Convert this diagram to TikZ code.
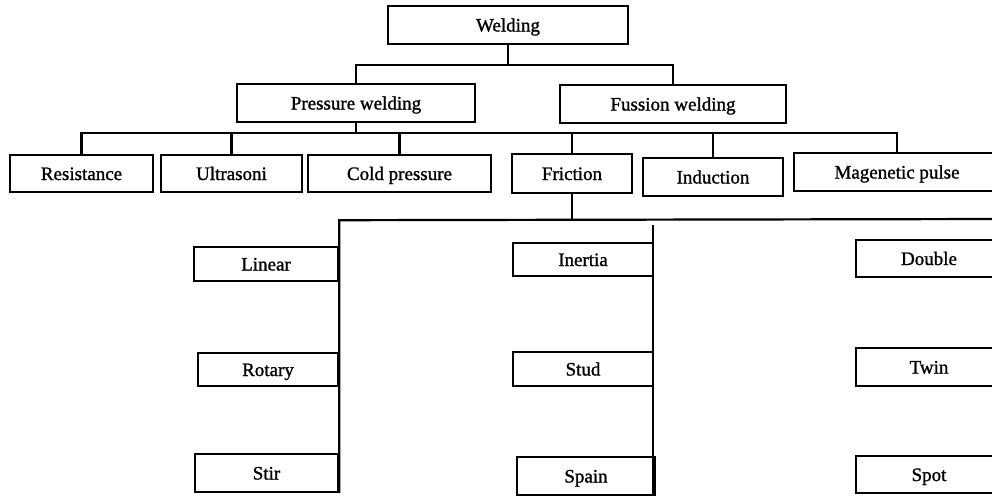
\documentclass[tikz,border=0pt]{standalone}
\usepackage{fontspec}
\setmainfont{Liberation Serif}
\newfontfamily\labelfont[FakeBold=1.2]{Liberation Serif}
\begin{document}
\begin{tikzpicture}[x=1pt,y=-1pt,
  box/.style={draw, line width=2.4pt, inner sep=0pt, align=center,
    font=\labelfont\fontsize{19}{22}\selectfont, text height=15pt, text depth=2pt},
  link/.style={line width=2.2pt}]
\useasboundingbox (0,0) rectangle (992,496);
\clip (0,0) rectangle (992,496);
% level 0
\node[box, minimum width=240pt, minimum height=38pt] (welding) at (508,25) {Welding};
% level 1
\node[box, minimum width=238pt, minimum height=38pt] (pressure) at (356,103) {Pressure welding};
\node[box, minimum width=226pt, minimum height=38pt] (fussion) at (673,104) {Fussion welding};
% level 2
\node[box, minimum width=143pt, minimum height=37pt] (resistance) at (81.5,173.5) {Resistance};
\node[box, minimum width=141pt, minimum height=37pt] (ultra) at (231.5,173.5) {Ultrasoni};
\node[box, minimum width=183pt, minimum height=37pt] (cold) at (399.5,173.5) {Cold pressure};
\node[box, minimum width=120pt, minimum height=39pt] (friction) at (572,173.5) {Friction};
\node[box, minimum width=140pt, minimum height=38pt] (induction) at (713,177) {Induction};
\node[box, minimum width=206pt, minimum height=38pt] (magnetic) at (897,172) {Magenetic pulse};
% level 3
\node[box, minimum width=144pt, minimum height=34pt] (linear) at (266,264) {Linear};
\node[box, minimum width=140pt, minimum height=33pt] (rotary) at (268,369.5) {Rotary};
\node[box, minimum width=143pt, minimum height=38pt] (stir) at (266.5,473) {Stir};
\node[box, minimum width=140pt, minimum height=33pt] (inertia) at (583,259.5) {Inertia};
\node[box, minimum width=140pt, minimum height=34pt] (stud) at (583,369) {Stud};
\node[box, minimum width=138pt, minimum height=38pt] (spain) at (586,476) {Spain};
\node[box, minimum width=146pt, minimum height=37pt] (double) at (929,258.5) {Double};
\node[box, minimum width=146pt, minimum height=38pt] (twin) at (929,367) {Twin};
\node[box, minimum width=146pt, minimum height=37pt] (spot) at (929,474.5) {Spot};
% connectors
\draw[link] (welding.south) -- ++(0,20) coordinate (j1);
\draw[link] (pressure.north) |- (j1) -| (fussion.north);
\draw[link] (pressure.south) -- ++(0,10) coordinate (j2);
\draw[link] (resistance.north) |- (j2) -| (magnetic.north);
\foreach \n in {ultra,cold,friction,induction}
  \draw[link] (\n.north) -- (\n.north |- j2);
\draw[link] (friction.south) -- ++(0,26) coordinate (j3);
\coordinate (r3) at (1000,219);
\draw[link] (stir.south east) -- (stir.south east |- j3) -- (r3);
\coordinate (m3) at (653,225);
\draw[link] (m3) -- (m3 |- spain.south);
\end{tikzpicture}
\end{document}
